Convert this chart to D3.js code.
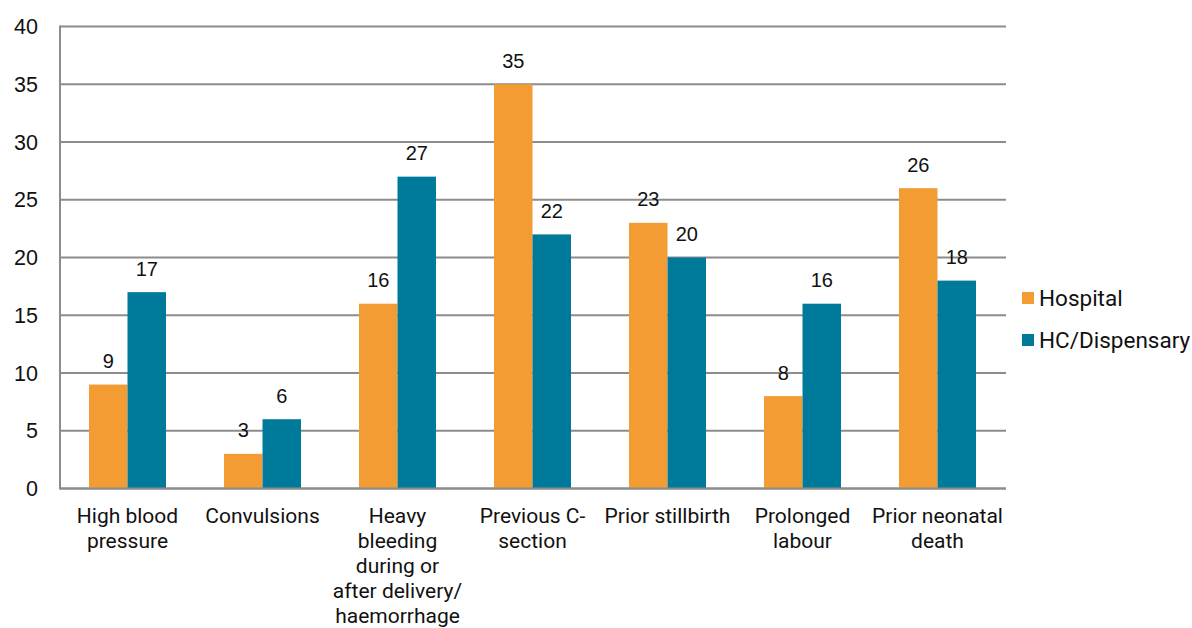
<!DOCTYPE html>
<html><head><meta charset="utf-8">
<script src="https://cdn.jsdelivr.net/npm/d3@7"></script>
<style>body{margin:0;background:#fff}svg{display:block}</style>
</head><body><svg id="c" width="1192" height="628"></svg>
<script>
const categories = [
  ["High blood","pressure"],
  ["Convulsions"],
  ["Heavy","bleeding","during or","after delivery/","haemorrhage"],
  ["Previous C-","section"],
  ["Prior stillbirth"],
  ["Prolonged","labour"],
  ["Prior neonatal","death"]
];
const series = ["Hospital","HC/Dispensary"];
const hospital = [9,3,16,35,23,8,26];
const hc = [17,6,27,22,20,16,18];
const yTicks = [0,5,10,15,20,25,30,35,40];
const colors = ["#F39C33","#007A9A"];

const svg = d3.select("#c");
const pLeft = 60, pRight = 1005, pTop = 26.5, pBottom = 488.5;
const idx = d3.range(categories.length);
const x = d3.scaleBand().domain(idx).range([pLeft,pRight]).padding(0);
const barW = 38.5;
const xs = d3.scaleBand().domain(series).range([0, barW*2]);
const y = d3.scaleLinear().domain([0,40]).range([pBottom, pTop]);

svg.append("g").selectAll("line").data(yTicks).join("line")
  .attr("x1",pLeft).attr("x2",pRight+1)
  .attr("y1",d=>y(d)).attr("y2",d=>y(d))
  .attr("stroke","#8c8c8c").attr("stroke-width",2);
svg.append("line").attr("x1",pLeft).attr("x2",pLeft).attr("y1",pTop-1).attr("y2",pBottom+1)
  .attr("stroke","#8c8c8c").attr("stroke-width",2);
svg.append("g").selectAll("text").data(yTicks).join("text")
  .attr("x",38).attr("y",d=>y(d)).attr("dy","0.36em").attr("text-anchor","end")
  .attr("font-family","Liberation Sans, Arial, sans-serif").attr("font-size",21.5).attr("fill","#111")
  .text(d=>d);

const data = [hospital, hc];
data.forEach((vals,si)=>{
  const g = svg.append("g");
  g.selectAll("rect").data(vals).join("rect")
    .attr("x",(d,i)=>x(i)+(x.bandwidth()-barW*2)/2+xs(series[si]))
    .attr("width",barW)
    .attr("y",d=>y(d)).attr("height",d=>pBottom-y(d))
    .attr("fill",colors[si]);
  g.selectAll("text").data(vals).join("text")
    .attr("x",(d,i)=>x(i)+(x.bandwidth()-barW*2)/2+xs(series[si])+barW/2)
    .attr("y",d=>y(d)-16.5)
    .attr("text-anchor","middle")
    .attr("font-family","Liberation Sans, Arial, sans-serif").attr("font-size",20).attr("fill","#111")
    .text(d=>d);
});
svg.append("line").attr("x1",pLeft).attr("x2",pRight+1).attr("y1",pBottom).attr("y2",pBottom)
  .attr("stroke","#8c8c8c").attr("stroke-width",2);

const cg = svg.append("g");
categories.forEach((lines,i)=>{
  const t = cg.append("text").attr("text-anchor","middle")
    .attr("font-family","Roboto, sans-serif").attr("font-size",21).attr("fill","#111");
  lines.forEach((ln,k)=>{
    t.append("tspan").attr("x",x(i)+x.bandwidth()/2).attr("y",523+k*25).text(ln);
  });
});

const lg = svg.append("g");
series.forEach((s,i)=>{
  lg.append("rect").attr("x",1022).attr("y",292+i*42).attr("width",12).attr("height",12).attr("fill",colors[i]);
  lg.append("text").attr("x",1039).attr("y",306+i*42)
    .attr("font-family","Roboto, sans-serif").attr("font-size",22.5).attr("fill","#111").text(s);
});
</script></body></html>
